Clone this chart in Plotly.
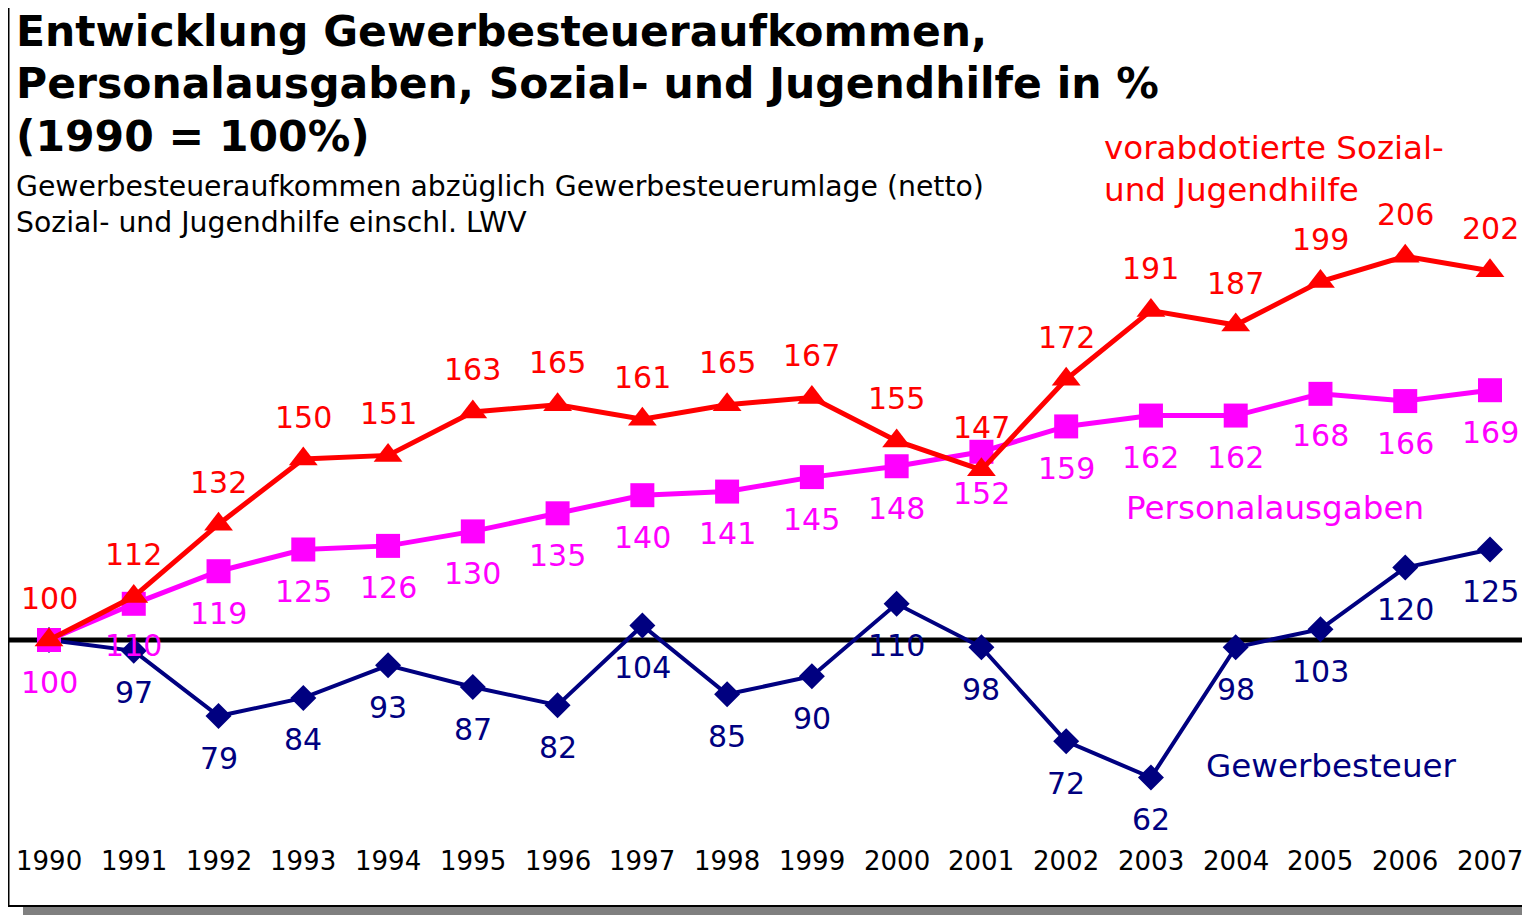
import plotly.graph_objects as go

# The page body has an 8px margin, so the figure is placed at (8, 8).
OFF = 8
PAGE_W, PAGE_H = 1530, 915
W, H = PAGE_W - OFF, PAGE_H - OFF

years = list(range(1990, 2008))
year_labels = [str(y) for y in years]

sozial = [100, 112, 132, 150, 151, 163, 165, 161, 165, 167, 155, 147, 172, 191, 187, 199, 206, 202]
personal = [100, 110, 119, 125, 126, 130, 135, 140, 141, 145, 148, 152, 159, 162, 162, 168, 166, 169]
gewerbe = [100, 97, 79, 84, 93, 87, 82, 104, 85, 90, 110, 98, 72, 62, 98, 103, 120, 125]

title_lines = ["Entwicklung Gewerbesteueraufkommen,",
               "Personalausgaben, Sozial- und Jugendhilfe in %",
               "(1990 = 100%)"]
subtitle_lines = ["Gewerbesteueraufkommen abzüglich Gewerbesteuerumlage (netto)",
                  "Sozial- und Jugendhilfe einschl. LWV"]

RED = "#FF0000"
MAG = "#FF00FF"
NAVY = "#000080"
FONT = "DejaVu Sans"

# page-pixel mapping (figure covers page from OFF to page edge)
px_per_year = (1490 - 49) / 17.0
x0 = 1990 - (49 - OFF) / px_per_year
x1 = x0 + W / px_per_year
px_per_unit = 3.62
y_top = 100 + (640 - OFF) / px_per_unit
y_bot = 100 - (PAGE_H - 640) / px_per_unit


def px(x):
    return (x - OFF) / W


def py(y):
    return 1 - (y - OFF) / H


fig = go.Figure()

fig.add_trace(go.Scatter(x=years, y=gewerbe, mode="lines+markers",
                         line=dict(color=NAVY, width=4),
                         marker=dict(symbol="diamond", size=20, color=NAVY),
                         name="Gewerbesteuer", showlegend=False))
fig.add_trace(go.Scatter(x=years, y=personal, mode="lines+markers",
                         line=dict(color=MAG, width=5),
                         marker=dict(symbol="square", size=24, color=MAG),
                         name="Personalausgaben", showlegend=False))
fig.add_trace(go.Scatter(x=years, y=sozial, mode="lines+markers",
                         line=dict(color=RED, width=5),
                         marker=dict(symbol="triangle-up", size=25, color=RED),
                         name="vorabdotierte Sozial- und Jugendhilfe", showlegend=False))

ann = []
LBL = 30
for i, (yr, v) in enumerate(zip(years, gewerbe)):
    if i == 0:
        continue
    ann.append(dict(x=yr, y=v, xref="x", yref="y", text=str(v), showarrow=False,
                    yshift=-42, font=dict(family=FONT, size=LBL, color=NAVY)))
for yr, v in zip(years, personal):
    ann.append(dict(x=yr, y=v, xref="x", yref="y", text=str(v), showarrow=False,
                    yshift=-42, font=dict(family=FONT, size=LBL, color=MAG)))
for yr, v in zip(years, sozial):
    ann.append(dict(x=yr, y=v, xref="x", yref="y", text=str(v), showarrow=False,
                    yshift=42, font=dict(family=FONT, size=LBL, color=RED)))

# category labels
for yr, lab in zip(years, year_labels):
    ann.append(dict(x=yr, y=py(861), xref="x", yref="paper", text=lab, showarrow=False,
                    yanchor="middle", font=dict(family=FONT, size=26, color="black")))

# titles
for i, t in enumerate(title_lines):
    ann.append(dict(x=px(15), y=py(31 + 52.5 * i), xref="paper", yref="paper", text="<b>%s</b>" % t,
                    showarrow=False, xanchor="left", yanchor="middle", borderpad=0,
                    font=dict(family=FONT, size=42.5, color="black")))
for i, t in enumerate(subtitle_lines):
    ann.append(dict(x=px(14), y=py(187 + 35 * i), xref="paper", yref="paper", text=t,
                    showarrow=False, xanchor="left", yanchor="middle",
                    font=dict(family=FONT, size=28.3, color="black")))

# series labels
SL = 32.6
ann.append(dict(x=px(1102), y=py(148), xref="paper", yref="paper", text="vorabdotierte Sozial-",
                showarrow=False, xanchor="left", yanchor="middle",
                font=dict(family=FONT, size=SL, color=RED)))
ann.append(dict(x=px(1102), y=py(190), xref="paper", yref="paper", text="und Jugendhilfe",
                showarrow=False, xanchor="left", yanchor="middle",
                font=dict(family=FONT, size=SL, color=RED)))
ann.append(dict(x=px(1124), y=py(508), xref="paper", yref="paper", text="Personalausgaben",
                showarrow=False, xanchor="left", yanchor="middle",
                font=dict(family=FONT, size=SL, color=MAG)))
ann.append(dict(x=px(1204), y=py(766), xref="paper", yref="paper", text="Gewerbesteuer",
                showarrow=False, xanchor="left", yanchor="middle",
                font=dict(family=FONT, size=SL, color=NAVY)))

shapes = [
    # baseline at 100
    dict(type="line", xref="paper", yref="y", x0=px(6), x1=1, y0=100, y1=100,
         line=dict(color="black", width=5), layer="below"),
    # frame
    dict(type="line", xref="paper", yref="paper", x0=px(8.5), x1=px(8.5), y0=py(0), y1=py(906),
         line=dict(color="black", width=2)),
    dict(type="line", xref="paper", yref="paper", x0=px(8), x1=px(1535), y0=py(906), y1=py(906),
         line=dict(color="black", width=2)),
    dict(type="rect", xref="paper", yref="paper", x0=px(23), x1=px(1535), y0=py(907), y1=py(920),
         line=dict(width=0), fillcolor="#808080"),
]

fig.update_layout(
    width=W, height=H,
    margin=dict(l=0, r=0, t=0, b=0),
    paper_bgcolor="white", plot_bgcolor="white",
    xaxis=dict(range=[x0, x1], visible=False, fixedrange=True),
    yaxis=dict(range=[y_bot, y_top], visible=False, fixedrange=True),
    annotations=ann, shapes=shapes, showlegend=False,
)

fig.write_html("out.html")
